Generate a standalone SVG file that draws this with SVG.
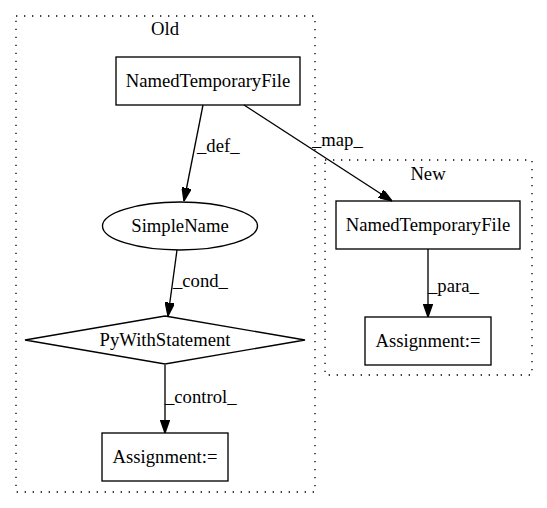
<svg xmlns="http://www.w3.org/2000/svg" width="547" height="508" viewBox="0 0 547 508">
<defs>
<marker id="arr" viewBox="0 0 10 7" markerWidth="13.33" markerHeight="9.33" markerUnits="userSpaceOnUse" refX="10" refY="3.5" orient="auto">
<path d="M0,0 L10,3.5 L0,7 z" fill="#000" stroke="#000" stroke-width="1"/>
</marker>
<style>
text{font-family:"Liberation Serif","Times New Roman",serif;font-size:18.67px;fill:#000}
.c{fill:none;stroke:#000;stroke-width:1.33;stroke-dasharray:1.33,6.67}
.n{fill:#fff;stroke:#000;stroke-width:1.33}
.e{fill:none;stroke:#000;stroke-width:1.33;marker-end:url(#arr)}
.m{text-anchor:middle}
</style>
</defs>
<rect width="547" height="508" fill="#fff"/>
<g id="cluster_old">
<rect class="c" x="16" y="16" width="299" height="476"/>
<text class="m" x="165" y="35">Old</text>
</g>
<g id="cluster_new">
<rect class="c" x="325" y="160" width="207" height="215"/>
<text class="m" x="428" y="180">New</text>
</g>
<g id="old_ntf">
<rect class="n" x="116" y="57" width="184" height="48"/>
<text class="m" x="208" y="87">NamedTemporaryFile</text>
</g>
<g id="simplename">
<ellipse class="n" cx="180" cy="226" rx="77.5" ry="24"/>
<text class="m" x="180" y="232">SimpleName</text>
</g>
<g id="pywith">
<polygon class="n" points="165,316 305,340 165,364 25,340"/>
<text class="m" x="165" y="346">PyWithStatement</text>
</g>
<g id="old_assign">
<rect class="n" x="102" y="433" width="126" height="48"/>
<text class="m" x="165" y="463">Assignment:=</text>
</g>
<g id="new_ntf">
<rect class="n" x="336" y="201" width="184" height="48"/>
<text class="m" x="428" y="231">NamedTemporaryFile</text>
</g>
<g id="new_assign">
<rect class="n" x="365" y="317" width="126" height="48"/>
<text class="m" x="428" y="347">Assignment:=</text>
</g>
<g id="edges">
<path class="e" d="M203,105 L184,201"/>
<text x="197" y="152">_def_</text>
<path class="e" d="M244,105 L392,201"/>
<text x="312" y="146">_map_</text>
<path class="e" d="M177,250 L168,316"/>
<text x="173" y="287">_cond_</text>
<path class="e" d="M165,365 L165,433"/>
<text x="165" y="403">_control_</text>
<path class="e" d="M428,249 L428,317"/>
<text x="428" y="292">_para_</text>
</g>
</svg>
